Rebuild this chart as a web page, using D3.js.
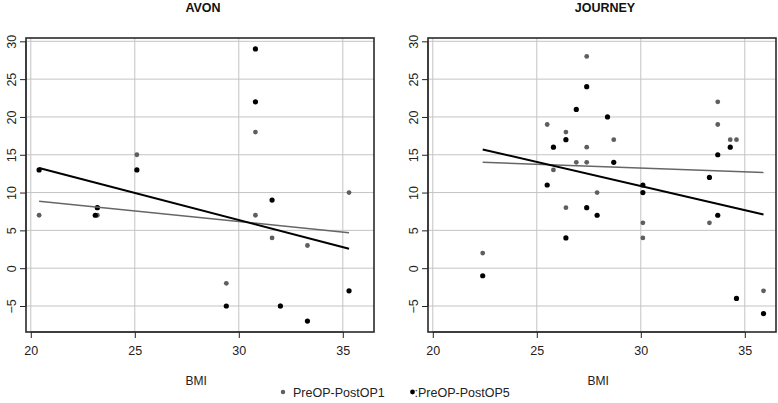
<!DOCTYPE html>
<html>
<head>
<meta charset="utf-8">
<script src="https://cdn.jsdelivr.net/npm/d3@7"></script>
<style>
  html, body { margin: 0; padding: 0; background: #fff; }
  svg { display: block; font-family: "Liberation Sans", Arial, sans-serif; }
</style>
</head>
<body>
<svg id="chart" width="778" height="403"></svg>
<script>
// ---- Data ----
const panelTitles = ["AVON", "JOURNEY"];
const xTicks = [20, 25, 30, 35];
const yTicks = [-5, 0, 5, 10, 15, 20, 25, 30];
const seriesNames = ["PreOP-PostOP1", ":PreOP-PostOP5"];

// AVON, PreOP-PostOP1 (grey)
const avonX1 = [20.4, 23.2, 23.2, 25.1, 30.8, 30.8, 31.6, 29.4, 32.0, 33.3, 35.3];
const avonY1 = [7, 7, 8, 15, 18, 7, 4, -2, -5, 3, 10];
// AVON, PreOP-PostOP5 (black)
const avonX5 = [20.4, 23.1, 23.2, 25.1, 30.8, 30.8, 31.6, 29.4, 32.0, 33.3, 35.3];
const avonY5 = [13, 7, 8, 13, 29, 22, 9, -5, -5, -7, -3];

// JOURNEY, PreOP-PostOP1 (grey)
const journeyX1 = [25.5, 25.8, 26.4, 26.9, 27.4, 27.4, 27.4, 27.9, 28.7, 33.7, 33.7, 34.3, 34.6, 26.4, 30.1, 30.1, 22.4, 33.3, 35.9];
const journeyY1 = [19, 13, 18, 14, 28, 16, 14, 10, 17, 22, 19, 17, 17, 8, 6, 4, 2, 6, -3];
// JOURNEY, PreOP-PostOP5 (black)
const journeyX5 = [25.8, 25.5, 26.4, 26.9, 27.4, 28.4, 28.7, 30.1, 30.1, 33.3, 33.7, 34.3, 27.4, 27.9, 26.4, 22.4, 33.7, 34.6, 35.9];
const journeyY5 = [16, 11, 17, 21, 24, 20, 14, 11, 10, 12, 15, 16, 8, 7, 4, -1, 7, -4, -6];

// Fitted regression lines: y at min BMI and at max BMI
const avonFit1 = [8.85, 4.7];
const avonFit5 = [13.26, 2.56];
const journeyFit1 = [14.0, 12.64];
const journeyFit5 = [15.7, 7.09];

// ---- Drawing ----
const svg = d3.select("#chart");
const colGrey = "#5e5e5e";
const colBlack = "#000000";
const FONT = "Liberation Sans, Arial, sans-serif";

const panels = [
  { title: panelTitles[0], x0: 26, x1: 374,
    s1: { x: avonX1, y: avonY1, fit: avonFit1 },
    s5: { x: avonX5, y: avonY5, fit: avonFit5 } },
  { title: panelTitles[1], x0: 428, x1: 776,
    s1: { x: journeyX1, y: journeyY1, fit: journeyFit1 },
    s5: { x: journeyX5, y: journeyY5, fit: journeyFit5 } }
];

const yTop = 38, yBot = 332;
const xDomain = [19.77, 36.5];
const yDomain = [-8.44, 30.44];

panels.forEach(p => {
  const x = d3.scaleLinear().domain(xDomain).range([p.x0, p.x1]);
  const y = d3.scaleLinear().domain(yDomain).range([yBot, yTop]);
  const g = svg.append("g");

  // grid
  g.append("g").selectAll("line").data(xTicks).join("line")
    .attr("x1", d => x(d)).attr("x2", d => x(d))
    .attr("y1", yTop).attr("y2", yBot)
    .attr("stroke", "#c4c4c4").attr("stroke-width", 1);
  g.append("g").selectAll("line").data(yTicks).join("line")
    .attr("x1", p.x0).attr("x2", p.x1)
    .attr("y1", d => y(d)).attr("y2", d => y(d))
    .attr("stroke", "#c4c4c4").attr("stroke-width", 1);

  // axes
  const xAxis = d3.axisBottom(x).tickValues(xTicks).tickSize(6).tickPadding(8).tickFormat(d3.format("d"));
  const gx = g.append("g").attr("transform", `translate(0,${yBot})`).call(xAxis);
  gx.select(".domain").attr("d", `M${x(xTicks[0])},0H${x(xTicks[xTicks.length-1])}`).attr("stroke", "#222");
  gx.selectAll(".tick line").attr("stroke", "#222");
  gx.selectAll(".tick text").attr("font-size", 12.5).attr("fill", "#222")
    .attr("font-family", FONT);

  const yAxis = d3.axisLeft(y).tickValues(yTicks).tickSize(6).tickFormat(d3.format("d"));
  const gy = g.append("g").attr("transform", `translate(${p.x0},0)`).call(yAxis);
  gy.select(".domain").attr("d", `M0,${y(yTicks[0])}V${y(yTicks[yTicks.length-1])}`).attr("stroke", "#222");
  gy.selectAll(".tick line").attr("stroke", "#222");
  gy.selectAll(".tick text")
    .attr("font-size", 12.5).attr("fill", "#222")
    .attr("font-family", FONT)
    .attr("x", null)
    .attr("text-anchor", "middle")
    .attr("transform", "translate(-14,0) rotate(-90)")
    .attr("dy", "0.35em");

  // box
  g.append("rect").attr("x", p.x0).attr("y", yTop)
    .attr("width", p.x1 - p.x0).attr("height", yBot - yTop)
    .attr("fill", "none").attr("stroke", "#2a2a2a").attr("stroke-width", 1.6);

  // points
  [[p.s1, colGrey, 2.4], [p.s5, colBlack, 2.6]].forEach(([s, c, r]) => {
    g.append("g").selectAll("circle").data(s.x.map((v, i) => [v, s.y[i]])).join("circle")
      .attr("cx", d => x(d[0])).attr("cy", d => y(d[1])).attr("r", r).attr("fill", c);
  });

  // fit lines
  [[p.s1, "#666666", 1.5], [p.s5, "#000000", 2]].forEach(([s, c, w]) => {
    const ext = d3.extent(s.x);
    const pts = [[ext[0], s.fit[0]], [ext[1], s.fit[1]]];
    g.append("path").attr("d", d3.line().x(d => x(d[0])).y(d => y(d[1]))(pts))
      .attr("stroke", c).attr("stroke-width", w).attr("fill", "none");
  });

  // title
  g.append("text").attr("x", (p.x0 + p.x1) / 2 + 3).attr("y", 12)
    .attr("text-anchor", "middle").attr("font-weight", "bold").attr("font-size", 12.5)
    .attr("fill", "#111").text(p.title);
  // x label
  g.append("text").attr("x", x(27.95)).attr("y", 385)
    .attr("text-anchor", "middle").attr("font-size", 12).attr("fill", "#222").text("BMI");
});

// legend
const leg = svg.append("g");
leg.append("circle").attr("cx", 283).attr("cy", 392).attr("r", 2.2).attr("fill", colGrey);
leg.append("text").attr("x", 293).attr("y", 396.5).attr("font-size", 12.5).attr("fill", "#222").text(seriesNames[0]);
leg.append("circle").attr("cx", 412.5).attr("cy", 392).attr("r", 2.4).attr("fill", colBlack);
leg.append("text").attr("x", 414.5).attr("y", 396.5).attr("font-size", 12.5).attr("fill", "#222").text(seriesNames[1]);
</script>
</body>
</html>
